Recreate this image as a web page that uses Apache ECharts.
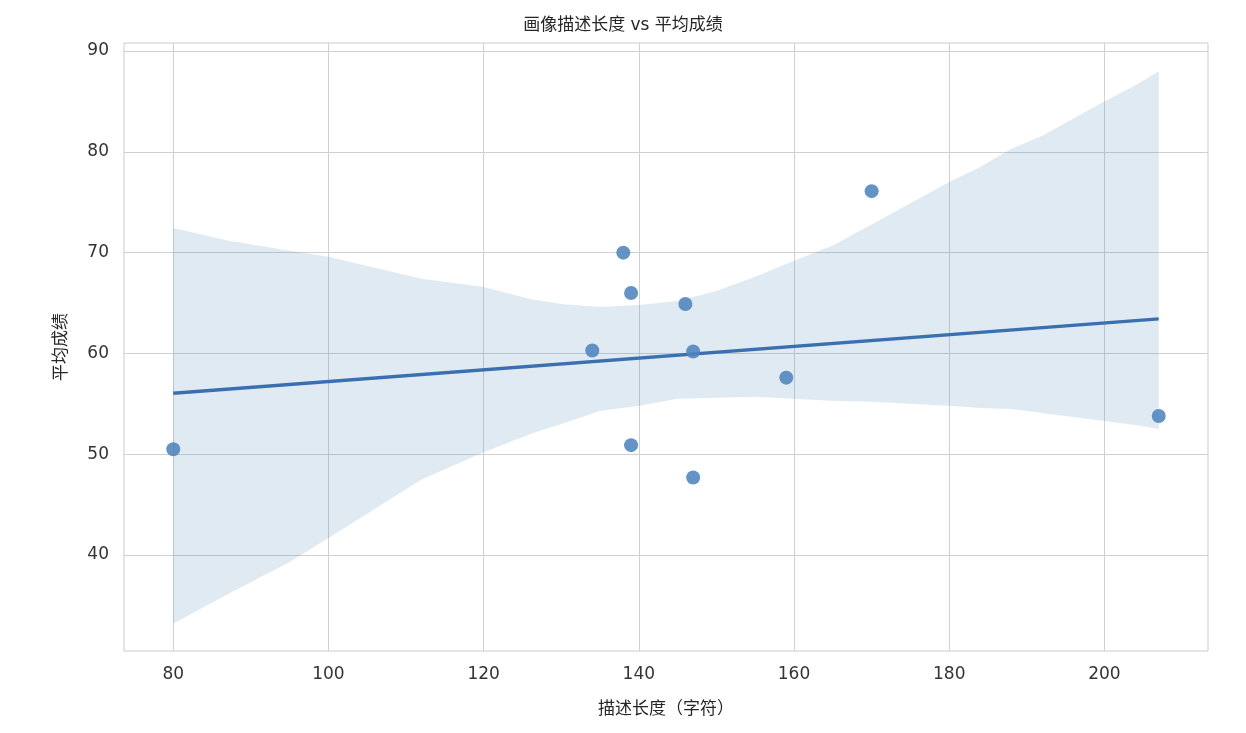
<!DOCTYPE html>
<html><head><meta charset="utf-8">
<script src="https://cdn.jsdelivr.net/npm/echarts@6/dist/echarts.min.js"></script>
<style>html,body{margin:0;padding:0;background:#fff}#c{width:1246px;height:733px}</style>
</head><body><div id="c"></div>
<script>
const titleText = '画像描述长度 vs 平均成绩';
const xName = '描述长度（字符）';
const yName = '平均成绩';
const descLen = [80, 134, 138, 139, 139, 146, 147, 147, 159, 170, 207];
const avgScore = [50.5, 60.3, 70.0, 66.0, 50.9, 64.9, 60.2, 47.7, 57.6, 76.1, 53.8];
const fitX = [80, 207];
const fitY = [56.06, 63.43];
const bandX = [80, 87, 95, 100, 106, 112, 120, 126, 130, 135, 140, 145, 150, 155, 160, 165, 170, 175, 180, 184, 188, 192, 196, 200, 204, 207];
const bandUpper = [72.45, 71.2, 70.2, 69.6, 68.5, 67.4, 66.6, 65.4, 64.9, 64.6, 64.8, 65.2, 66.2, 67.6, 69.2, 70.7, 72.8, 74.9, 77.0, 78.5, 80.3, 81.6, 83.3, 85.0, 86.6, 88.0];
const bandLower = [33.2, 36.1, 39.3, 41.7, 44.6, 47.5, 50.2, 52.0, 53.0, 54.3, 54.8, 55.5, 55.6, 55.7, 55.5, 55.3, 55.2, 55.0, 54.8, 54.6, 54.5, 54.1, 53.7, 53.3, 52.9, 52.5];
const xTicks = [80, 100, 120, 140, 160, 180, 200];
const yTicks = [40, 50, 60, 70, 80, 90];

const font = "'DejaVu Sans', 'Noto Sans CJK SC', sans-serif";
const chart = echarts.init(document.getElementById('c'), null, {renderer: 'canvas'});
chart.setOption({
  animation: false,
  backgroundColor: '#ffffff',
  title: {text: titleText, left: 'center', top: 12,
    textStyle: {fontFamily: font, fontSize: 17, fontWeight: 'normal', color: '#262626'}},
  grid: {left: 124, right: 38, top: 43, bottom: 82, show: true, borderColor: '#cccccc', borderWidth: 1},
  xAxis: {type: 'value', min: 73.65, max: 213.35,
    name: xName, nameLocation: 'middle', nameGap: 50,
    nameTextStyle: {fontFamily: font, fontSize: 17, color: '#262626'},
    axisLine: {show: false}, axisTick: {show: false, customValues: xTicks},
    axisLabel: {customValues: xTicks, fontFamily: font, fontSize: 17, color: '#333333', margin: 15},
    splitLine: {show: true, lineStyle: {color: '#d0d0d0', width: 1}}},
  yAxis: {type: 'value', min: 30.48, max: 90.8,
    name: yName, nameLocation: 'middle', nameGap: 54, nameRotate: 90,
    nameTextStyle: {fontFamily: font, fontSize: 17, color: '#262626'},
    axisLine: {show: false}, axisTick: {show: false, customValues: yTicks},
    axisLabel: {customValues: yTicks, fontFamily: font, fontSize: 17, color: '#333333', margin: 15},
    splitLine: {show: true, lineStyle: {color: '#d0d0d0', width: 1}}},
  series: [
    {type: 'custom', silent: true, z: 1, data: [[bandX[0], bandUpper[0]]],
      renderItem: function (params, api) {
        const pts = [];
        for (let i = 0; i < bandX.length; i++) pts.push(api.coord([bandX[i], bandUpper[i]]));
        for (let i = bandX.length - 1; i >= 0; i--) pts.push(api.coord([bandX[i], bandLower[i]]));
        return {type: 'polygon', shape: {points: pts, smooth: 0}, style: {fill: 'rgba(70,130,180,0.17)'}};
      }},
    {type: 'line', z: 3, symbol: 'none', data: fitX.map((x, i) => [x, fitY[i]]),
      lineStyle: {color: '#3a70b0', width: 3.5}},
    {type: 'scatter', z: 4, symbolSize: 14, data: descLen.map((x, i) => [x, avgScore[i]]),
      itemStyle: {color: '#4f84bd', opacity: 0.88}}
  ]
});
</script></body></html>
